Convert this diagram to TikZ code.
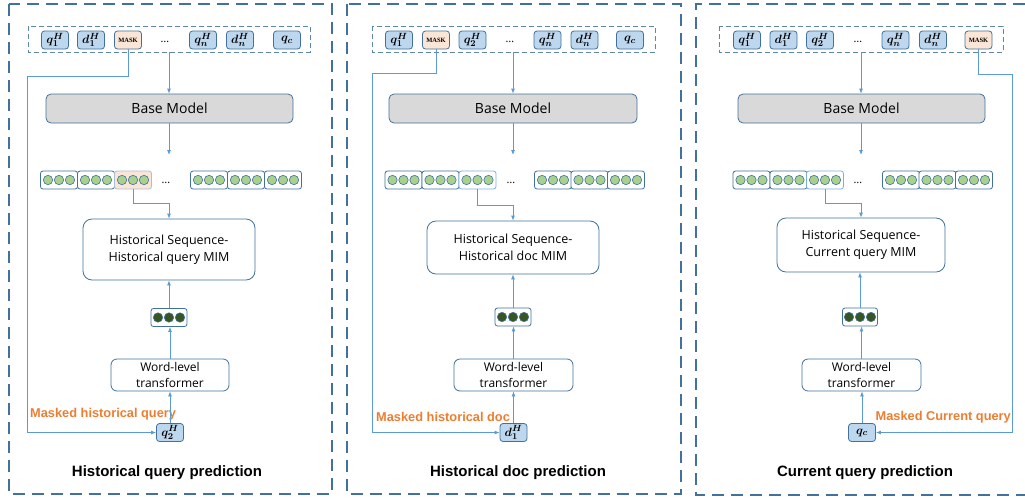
\documentclass[tikz,border=0pt]{standalone}
\usepackage{amsmath}
\usepackage{bm}
\usepackage{fontspec}
\setsansfont{Open Sans}
\newfontfamily\boldsans{Liberation Sans}
\newfontfamily\maskfont{Liberation Serif}
\usetikzlibrary{arrows.meta,calc}

\definecolor{frameblue}{HTML}{41719C}
\definecolor{linkblue}{HTML}{5B9BD5}
\definecolor{tokfill}{HTML}{BDD7EE}
\definecolor{maskfill}{HTML}{FBE5D6}
\definecolor{basefill}{HTML}{D9D9D9}
\definecolor{dotgreen}{HTML}{A9D18E}
\definecolor{dotdark}{HTML}{375623}
\definecolor{labelorange}{HTML}{ED7D31}

\tikzset{
  panel/.style={draw=frameblue, line width=1.6pt, dash pattern=on 12pt off 7pt},
  inrow/.style={draw=frameblue!85, line width=0.9pt, dash pattern=on 5pt off 3pt},
  tok/.style={draw=frameblue, fill=tokfill, rounded corners=3pt, minimum width=27pt,
    minimum height=18pt, inner sep=0pt, line width=0.8pt, font=\fontsize{13}{13}\selectfont},
  masktok/.style={tok, fill=maskfill, font=\maskfont\bfseries\fontsize{6.5}{7}\selectfont},
  basebox/.style={draw=frameblue, fill=basefill, rounded corners=5pt, line width=0.8pt,
    inner sep=0pt, font=\sffamily\fontsize{14}{14}\selectfont},
  mimbox/.style={draw=frameblue, fill=white, rounded corners=9pt, line width=0.8pt,
    inner sep=0pt, align=center, font=\sffamily\fontsize{12.5}{17}\selectfont},
  wordbox/.style={draw=frameblue, fill=white, rounded corners=6pt, line width=0.8pt,
    inner sep=0pt, align=center, font=\sffamily\fontsize{12}{16}\selectfont},
  embbox/.style={draw=frameblue, fill=white, rounded corners=2.5pt, minimum height=18pt,
    line width=0.8pt, inner sep=0pt},
  embhl/.style={embbox, fill=maskfill, draw=frameblue!45},
  embpale/.style={embbox, draw=linkblue!80},
  link/.style={draw=linkblue, line width=0.8pt},
  arr/.style={link, -{Latex[length=5pt,width=4pt]}},
  dotsl/.style={font=\sffamily\fontsize{11}{11}\selectfont, inner sep=0pt},
  orangelbl/.style={text=labelorange, inner sep=0pt, font=\boldsans\bfseries\fontsize{12.8}{12.8}\selectfont},
  caption/.style={inner sep=0pt, font=\boldsans\bfseries\fontsize{15}{15}\selectfont},
}

% one embedding vector: a rounded cell holding three circles
\newcommand\embcell[5]{%
  \node[#3, minimum width=#5] (#1) at #2 {};
  \foreach \dx in {-11,0,11}
    \draw[draw=frameblue, fill=#4, line width=0.6pt] ($(#1.center)+(\dx pt,0)$) circle (4.7pt);
}
\newcommand\tk[1]{$\bm{#1}$}

\begin{document}
\begin{tikzpicture}[x=1pt, y=-1pt]
\useasboundingbox (0,0) rectangle (1025,499);

%% ---------------- Historical query prediction ----------------
\draw[panel] (9,4) rectangle (332,494);
\draw[inrow] (28,26) rectangle (310,52);
\coordinate (in1) at (169,52);
\node[tok] (a-q1) at (55,40) {\tk{q_1^H}};
\node[tok] (a-d1) at (91,40) {\tk{d_1^H}};
\node[masktok] (a-m) at (128,40) {MASK};
\node[dotsl] (a-dots) at (165,42) {\ldots};
\node[tok] (a-qn) at (203,40) {\tk{q_n^H}};
\node[tok] (a-dn) at (240,40) {\tk{d_n^H}};
\node[tok] (a-qc) at (287,40) {\tk{q_c}};

\node[basebox, minimum width=247pt, minimum height=29pt] (a-base) at (169.5,108.5) {Base Model};

\embcell{a-e1}{(59,180)}{embbox}{dotgreen}{37pt}
\embcell{a-e2}{(96,180)}{embbox}{dotgreen}{37pt}
\embcell{a-e3}{(133,180)}{embhl}{dotgreen}{37pt}
\node[dotsl] (a-edots) at (166,183) {\ldots};
\embcell{a-e4}{(209,180)}{embbox}{dotgreen}{37pt}
\embcell{a-e5}{(246,180)}{embbox}{dotgreen}{37pt}
\embcell{a-e6}{(283,180)}{embbox}{dotgreen}{37pt}
\coordinate (a-rowtop) at (169,155);

\node[mimbox, minimum width=172pt, minimum height=61pt] (a-mim) at (169,249.5)
  {Historical Sequence-\\Historical query MIM};
\embcell{a-dk}{(169,317.5)}{embbox}{dotdark}{36pt}
\node[wordbox, minimum width=118pt, minimum height=32pt] (a-wt) at (170,375)
  {Word-level\\transformer};
\node[tok] (a-out) at (170,432.5) {\tk{q_2^H}};
\node[orangelbl, anchor=west] (a-lbl) at (30,414) {Masked historical query};
\node[caption] (a-cap) at (167,473) {Historical query prediction};

\draw[arr] (in1) -- (in1 |- a-base.north);
\draw[arr] (a-rowtop |- a-base.south) -- (a-rowtop);
\draw[arr] (a-e3.south) -- ++(0,14) -| (a-mim.north);
\draw[arr] (a-dk.north) -- (a-dk.north |- a-mim.south);
\draw[arr] (a-wt.north) -- (a-wt.north |- a-dk.south);
\draw[arr] (a-out.north) -- (a-out.north |- a-wt.south);
\coordinate (a-k) at (27,76);
\draw[arr] (a-m.south) |- (a-k) |- (a-out.west);

%% ---------------- Historical doc prediction ----------------
\draw[panel] (347,4) rectangle (681,494);
\draw[inrow] (372,26) rectangle (655,52);
\coordinate (in2) at (513,52);
\node[tok] (b-q1) at (399,40) {\tk{q_1^H}};
\node[masktok] (b-m) at (436,40) {MASK};
\node[tok] (b-q2) at (472.5,40) {\tk{q_2^H}};
\node[dotsl] (b-dots) at (510,42) {\ldots};
\node[tok] (b-qn) at (547.5,40) {\tk{q_n^H}};
\node[tok] (b-dn) at (584.5,40) {\tk{d_n^H}};
\node[tok] (b-qc) at (630,40) {\tk{q_c}};

\node[basebox, minimum width=248pt, minimum height=29pt] (b-base) at (513,108.5) {Base Model};

\embcell{b-e1}{(403.5,180)}{embbox}{dotgreen}{37pt}
\embcell{b-e2}{(440.5,180)}{embbox}{dotgreen}{37pt}
\embcell{b-e3}{(477.5,180)}{embpale}{dotgreen}{37pt}
\node[dotsl] (b-edots) at (511,183) {\ldots};
\embcell{b-e4}{(553,180)}{embbox}{dotgreen}{37pt}
\embcell{b-e5}{(589.5,180)}{embbox}{dotgreen}{37pt}
\embcell{b-e6}{(626,180)}{embbox}{dotgreen}{37pt}
\coordinate (b-rowtop) at (513,155);

\node[mimbox, minimum width=172pt, minimum height=53pt] (b-mim) at (513,247.5)
  {Historical Sequence-\\Historical doc MIM};
\embcell{b-dk}{(513,317)}{embbox}{dotdark}{36pt}
\node[wordbox, minimum width=119pt, minimum height=32pt] (b-wt) at (513.5,375)
  {Word-level\\transformer};
\node[tok] (b-out) at (513.5,432.5) {\tk{d_1^H}};
\node[orangelbl, anchor=west] (b-lbl) at (376,417) {Masked historical doc};
\node[caption] (b-cap) at (518,473) {Historical doc prediction};

\draw[arr] (in2) -- (in2 |- b-base.north);
\draw[arr] (b-rowtop |- b-base.south) -- (b-rowtop);
\draw[arr] (b-e3.south) -- ++(0,16) -| (b-mim.north);
\draw[arr] (b-dk.north) -- (b-dk.north |- b-mim.south);
\draw[arr] (b-wt.north) -- (b-wt.north |- b-dk.south);
\draw[arr] (b-out.north) -- (b-out.north |- b-wt.south);
\coordinate (b-k) at (372,73);
\draw[arr] (b-m.south) |- (b-k) |- (b-out.west);

%% ---------------- Current query prediction ----------------
\draw[panel] (1025,4) -- (696,4) -- (696,495) -- (1025,495);
\draw[inrow] (719,26) rectangle (1003,52);
\coordinate (in3) at (861,52);
\node[tok] (c-q1) at (747,40) {\tk{q_1^H}};
\node[tok] (c-d1) at (783.5,40) {\tk{d_1^H}};
\node[tok] (c-q2) at (820,40) {\tk{q_2^H}};
\node[dotsl] (c-dots) at (858,42) {\ldots};
\node[tok] (c-qn) at (895.5,40) {\tk{q_n^H}};
\node[tok] (c-dn) at (933,40) {\tk{d_n^H}};
\node[masktok] (c-m) at (978.5,40) {MASK};

\node[basebox, minimum width=247pt, minimum height=29pt] (c-base) at (861.5,108.5) {Base Model};

\embcell{c-e1}{(751.5,180)}{embbox}{dotgreen}{37pt}
\embcell{c-e2}{(788.5,180)}{embbox}{dotgreen}{37pt}
\embcell{c-e3}{(825,180)}{embpale}{dotgreen}{37pt}
\node[dotsl] (c-edots) at (858,183) {\ldots};
\embcell{c-e4}{(901,180)}{embbox}{dotgreen}{37pt}
\embcell{c-e5}{(937.5,180)}{embbox}{dotgreen}{37pt}
\embcell{c-e6}{(974,180)}{embbox}{dotgreen}{37pt}
\coordinate (c-rowtop) at (861,155);

\node[mimbox, minimum width=168pt, minimum height=54pt] (c-mim) at (861,245)
  {Historical Sequence-\\Current query MIM};
\embcell{c-dk}{(860,317)}{embbox}{dotdark}{35pt}
\node[wordbox, minimum width=119pt, minimum height=32pt] (c-wt) at (861.5,375)
  {Word-level\\transformer};
\node[tok] (c-out) at (862,432.5) {\tk{q_c}};
\node[orangelbl, anchor=east] (c-lbl) at (1011,417) {Masked Current query};
\node[caption] (c-cap) at (865,473) {Current query prediction};

\draw[arr] (in3) -- (in3 |- c-base.north);
\draw[arr] (c-rowtop |- c-base.south) -- (c-rowtop);
\draw[arr] (c-e3.south) -- ++(0,14) -| (c-mim.north);
\draw[arr] (c-dk.north) -- (c-dk.north |- c-mim.south);
\draw[arr] (c-wt.north) -- (c-wt.north |- c-dk.south);
\draw[arr] (c-out.north) -- (c-out.north |- c-wt.south);
\coordinate (c-k) at (1012,74);
\draw[arr] (c-m.south) |- (c-k) |- (c-out.east);
\end{tikzpicture}
\end{document}
